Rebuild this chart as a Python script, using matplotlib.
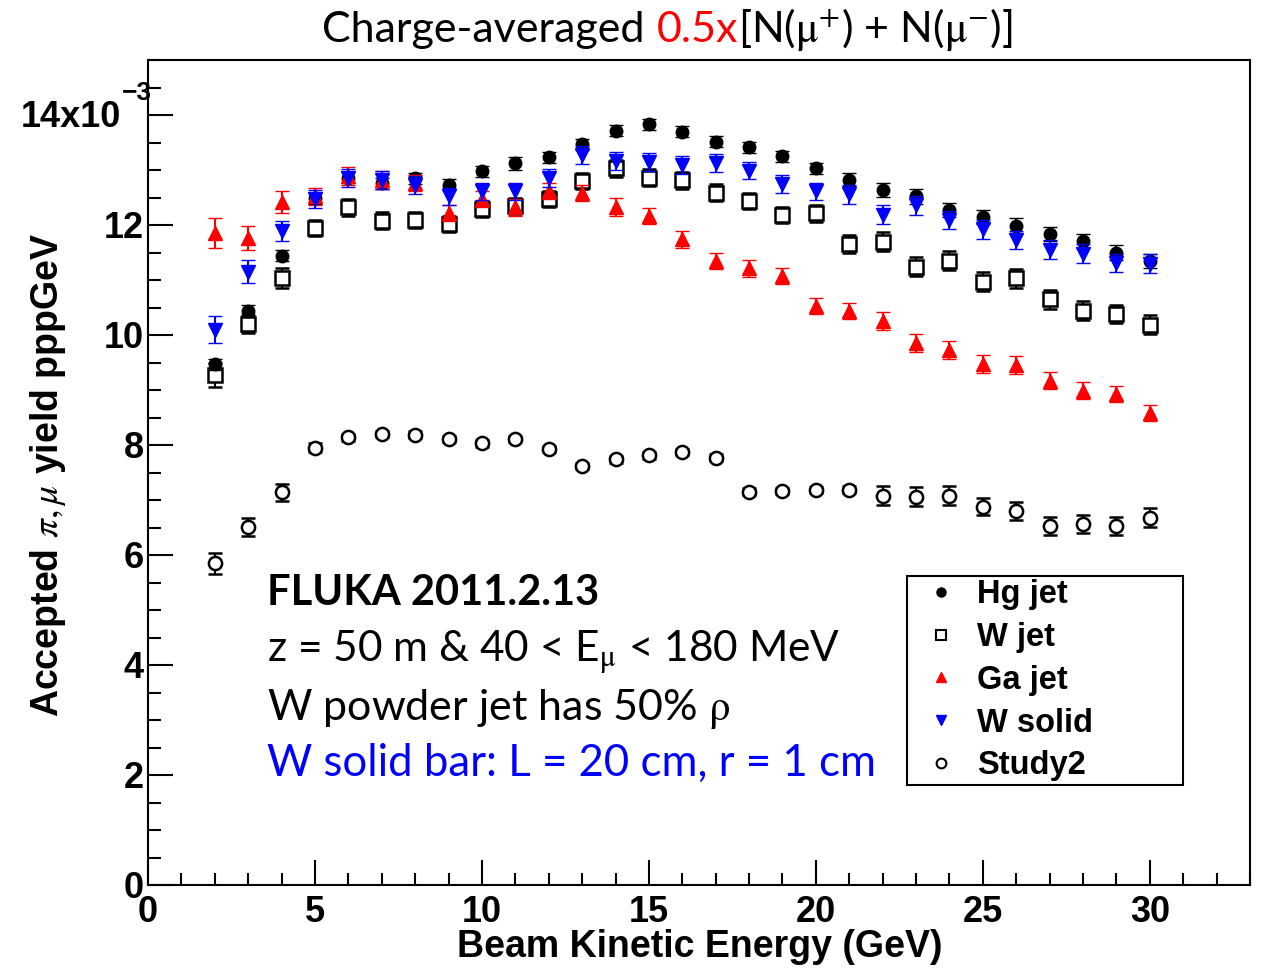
import matplotlib
matplotlib.use("Agg")
import matplotlib.pyplot as plt
from matplotlib.lines import Line2D
from matplotlib.ticker import MultipleLocator

plt.rcParams["mathtext.fontset"] = "stix"

# Beam kinetic energy (GeV)
energy = list(range(2, 31))

# Accepted pi/mu yield per proton per GeV, in units of 1e-3
hg_jet = [9.47, 10.44, 11.44, 12.49, 12.86, 12.76, 12.85, 12.73, 12.98, 13.12,
          13.23, 13.47, 13.71, 13.83, 13.70, 13.51, 13.41, 13.25, 13.03, 12.82,
          12.64, 12.52, 12.27, 12.15, 11.99, 11.84, 11.71, 11.50, 11.35]
hg_err = [0.10, 0.10, 0.10, 0.10, 0.10, 0.10, 0.10, 0.10, 0.10, 0.12,
          0.10, 0.10, 0.10, 0.10, 0.10, 0.10, 0.10, 0.10, 0.10, 0.12,
          0.13, 0.13, 0.13, 0.13, 0.13, 0.13, 0.13, 0.13, 0.13]

w_jet = [9.27, 10.20, 11.03, 11.95, 12.32, 12.08, 12.09, 12.02, 12.29, 12.35,
         12.47, 12.80, 13.03, 12.86, 12.81, 12.59, 12.44, 12.18, 12.21, 11.65,
         11.70, 11.24, 11.35, 10.97, 11.03, 10.65, 10.44, 10.38, 10.19]
w_jet_err = [0.22, 0.17, 0.18, 0.15, 0.15, 0.15, 0.15, 0.15, 0.15, 0.15,
             0.15, 0.15, 0.15, 0.15, 0.15, 0.15, 0.15, 0.15, 0.15, 0.16,
             0.17, 0.17, 0.17, 0.17, 0.17, 0.17, 0.17, 0.17, 0.17]

ga_jet = [11.85, 11.76, 12.41, 12.52, 12.89, 12.82, 12.76, 12.22, 12.47, 12.32,
          12.62, 12.58, 12.33, 12.16, 11.74, 11.35, 11.21, 11.07, 10.53, 10.44,
          10.26, 9.85, 9.73, 9.47, 9.45, 9.17, 8.99, 8.93, 8.58]
ga_err = [0.27, 0.22, 0.20, 0.16, 0.16, 0.16, 0.15, 0.15, 0.15, 0.15,
          0.15, 0.15, 0.16, 0.15, 0.15, 0.15, 0.15, 0.15, 0.15, 0.15,
          0.16, 0.16, 0.16, 0.16, 0.16, 0.15, 0.15, 0.15, 0.15]

w_solid = [10.10, 11.15, 11.89, 12.47, 12.86, 12.82, 12.73, 12.52, 12.61, 12.61,
           12.85, 13.27, 13.16, 13.15, 13.09, 13.13, 12.99, 12.75, 12.61, 12.56,
           12.19, 12.36, 12.09, 11.92, 11.73, 11.55, 11.48, 11.31, 11.30]
w_solid_err = [0.24, 0.21, 0.18, 0.16, 0.16, 0.16, 0.16, 0.16, 0.16, 0.16,
               0.16, 0.16, 0.16, 0.16, 0.16, 0.16, 0.16, 0.16, 0.16, 0.17,
               0.17, 0.17, 0.17, 0.17, 0.17, 0.17, 0.17, 0.17, 0.17]

study2 = [5.85, 6.51, 7.14, 7.95, 8.14, 8.20, 8.19, 8.11, 8.03, 8.11,
          7.93, 7.62, 7.74, 7.81, 7.87, 7.77, 7.15, 7.16, 7.18, 7.19,
          7.08, 7.06, 7.08, 6.88, 6.80, 6.53, 6.56, 6.53, 6.68]
study2_err = [0.19, 0.17, 0.15, 0.08, 0.06, 0.06, 0.06, 0.06, 0.06, 0.06,
              0.06, 0.06, 0.06, 0.06, 0.06, 0.06, 0.06, 0.06, 0.06, 0.06,
              0.17, 0.17, 0.17, 0.16, 0.16, 0.17, 0.16, 0.16, 0.17]

labels = ["Hg jet", "W jet", "Ga jet", "W solid", "Study2"]
x_ticks = [0, 5, 10, 15, 20, 25, 30]
y_ticks = [0, 2, 4, 6, 8, 10, 12, 14]
y_tick_labels = ["0", "2", "4", "6", "8", "10", "12", ""]

ROOT_FONT = "Liberation Sans"
SLIDE_FONT = "Lato"

W, H = 1266, 969
fig = plt.figure(figsize=(W / 100, H / 100), dpi=100)
ax = fig.add_axes([148 / W, 1 - 885 / H, (1250 - 148) / W, (885 - 60) / H])
ax.set_xlim(0, 33)
ax.set_ylim(0, 15)

styles = {
    "Hg jet": dict(marker="o", color="black", mfc="black", mec="black", ms=9, mew=1.0, lms=6.5, z=4),
    "W jet": dict(marker="s", color="black", mfc="white", mec="black", ms=10, mew=1.8, lms=7, z=3),
    "Ga jet": dict(marker="^", color="red", mfc="red", mec="red", ms=9.5, mew=1.0, lms=7, z=5),
    "W solid": dict(marker="v", color="blue", mfc="blue", mec="blue", ms=9.5, mew=1.0, lms=7, z=6),
    "Study2": dict(marker="o", color="black", mfc="white", mec="black", ms=9.5, mew=1.8, lms=7, z=2),
}
data = {
    "Hg jet": (hg_jet, hg_err),
    "W jet": (w_jet, w_jet_err),
    "Ga jet": (ga_jet, ga_err),
    "W solid": (w_solid, w_solid_err),
    "Study2": (study2, study2_err),
}

handles = []
for name in labels:
    vals, errs = data[name]
    st = styles[name]
    ax.errorbar(energy, vals, yerr=errs, fmt=st["marker"], color=st["color"],
                mfc=st["mfc"], mec=st["mec"], ms=st["ms"], mew=st["mew"],
                elinewidth=1.5, capsize=5, capthick=1.5, zorder=st["z"])
    handles.append(Line2D([], [], linestyle="none", marker=st["marker"],
                          mfc=st["mfc"], mec=st["mec"], ms=st["lms"],
                          mew=min(st["mew"], 1.5)))

# Axes frame and ticks
for sp in ax.spines.values():
    sp.set_linewidth(1.5)
ax.xaxis.set_minor_locator(MultipleLocator(1))
ax.yaxis.set_minor_locator(MultipleLocator(0.5))
ax.set_xticks(x_ticks)
ax.set_yticks(y_ticks)
ax.set_yticklabels(y_tick_labels)
ax.tick_params(which="both", direction="in", top=False, right=False, width=1.5)
ax.tick_params(which="major", length=18)
ax.tick_params(which="minor", length=9)
ax.tick_params(axis="x", pad=7)
ax.tick_params(axis="y", pad=3)
for lab in ax.get_xticklabels() + ax.get_yticklabels():
    lab.set_fontfamily(ROOT_FONT)
    lab.set_fontweight("bold")
    lab.set_fontsize(26)

# Top label with the axis exponent
fig.text(121 / W, 1 - 117 / H, "14x10", fontfamily=ROOT_FONT, fontweight="bold",
         fontsize=26, ha="right", va="center")
fig.text(137 / W, 1 - 93 / H, "\u22123", fontfamily=ROOT_FONT, fontweight="bold",
         fontsize=19, ha="center", va="center")

ax.set_xlabel("Beam Kinetic Energy (GeV)", fontfamily=ROOT_FONT,
              fontweight="bold", fontsize=27)
ax.xaxis.set_label_coords(0.501, -0.053)
ax.set_ylabel(r"Accepted $\pi,\mu$ yield pppGeV", fontfamily=ROOT_FONT,
              fontweight="bold", fontsize=27)
ax.yaxis.set_label_coords(-0.0726, 0.497)

# Legend
leg = ax.legend(handles, labels, loc="upper left",
                bbox_to_anchor=(907 / W, 1 - 782 / H, 276 / W, 206 / H),
                bbox_transform=fig.transFigure, mode="expand",
                frameon=True, fancybox=False, edgecolor="black", framealpha=1,
                borderaxespad=0, borderpad=0.1, handlelength=1.88,
                handletextpad=0.17, labelspacing=0.36,
                prop=dict(family=ROOT_FONT, weight="bold", size=23.5))
leg.get_frame().set_linewidth(1.5)

# Run description
fig.text(267 / W, 1 - 605 / H, "FLUKA 2011.2.13", fontfamily=SLIDE_FONT,
         fontweight="bold", fontsize=30, va="baseline")
fig.text(267 / W, 1 - 662 / H, r"z = 50 m & 40 < E$_{\mathrm{\mu}}$ < 180 MeV",
         fontfamily=SLIDE_FONT, fontsize=30.5, va="baseline")
fig.text(267 / W, 1 - 720 / H, r"W powder jet has 50% $\mathrm{\rho}$",
         fontfamily=SLIDE_FONT, fontsize=31, va="baseline")
fig.text(267 / W, 1 - 776 / H, "W solid bar: L = 20 cm, r = 1 cm",
         fontfamily=SLIDE_FONT, fontsize=31.5, va="baseline", color="blue")

# Title with a highlighted factor
renderer = fig.canvas.get_renderer()
title_y = 1 - 42 / H
parts = [("Charge-averaged", "black", 12),
         ("0.5x", "red", 0),
         (r"[N($\mathrm{\mu}^{+}$) + N($\mathrm{\mu}^{-}$)]", "black", 0)]
x_px = 322
for text, color, gap in parts:
    t = fig.text(x_px / W, title_y, text, fontfamily=SLIDE_FONT, fontsize=31,
                 color=color, va="baseline", ha="left")
    x_px += t.get_window_extent(renderer).width + gap

fig.savefig("out.png", dpi=100)
